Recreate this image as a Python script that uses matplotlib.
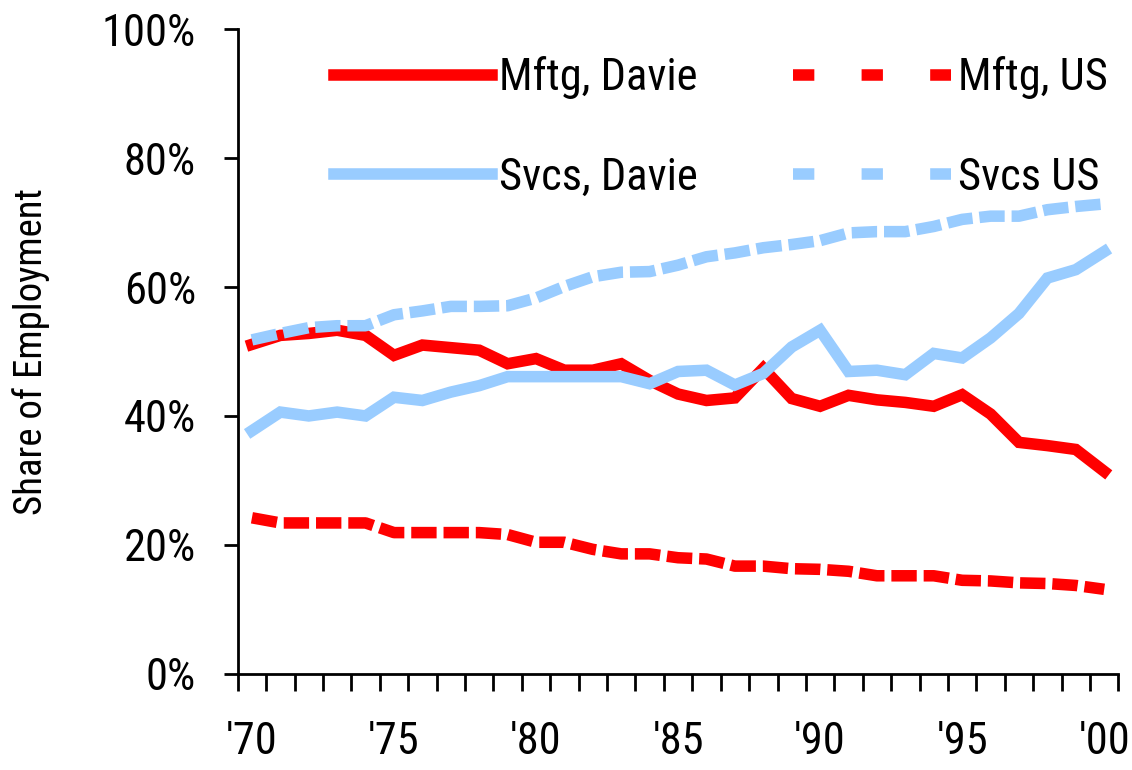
import matplotlib.pyplot as plt
from matplotlib.lines import Line2D

plt.rcParams['font.family'] = ['Roboto Condensed', 'DejaVu Sans Condensed',
                               'Liberation Sans Narrow', 'Roboto', 'DejaVu Sans']

years = list(range(1970, 2001))
year_labels = ["'70", "'75", "'80", "'85", "'90", "'95", "'00"]

mftg_davie = [51.1, 52.5, 52.8, 53.3, 52.5, 49.4, 51.0, 50.6, 50.2, 48.1,
              48.9, 47.1, 47.1, 48.1, 45.5, 43.4, 42.4, 42.8, 47.4, 42.7,
              41.5, 43.2, 42.5, 42.1, 41.5, 43.3, 40.3, 35.9, 35.4, 34.8, 31.4]
mftg_us = [24.2, 23.4, 23.4, 23.4, 23.4, 21.9, 21.9, 21.9, 21.9, 21.6,
           20.4, 20.4, 19.3, 18.6, 18.6, 18.0, 17.8, 16.7, 16.7, 16.3,
           16.2, 15.9, 15.2, 15.2, 15.2, 14.5, 14.4, 14.1, 14.0, 13.7, 13.1]
svcs_davie = [37.7, 40.6, 40.0, 40.6, 40.0, 42.9, 42.4, 43.7, 44.7, 46.1,
              46.1, 46.1, 46.1, 46.1, 45.0, 46.9, 47.1, 44.8, 46.6, 50.7,
              53.3, 46.9, 47.1, 46.4, 49.7, 49.0, 52.1, 55.9, 61.4, 62.7, 65.5]
svcs_us = [51.8, 52.8, 53.7, 54.0, 54.0, 55.7, 56.3, 57.0, 57.0, 57.1,
           58.3, 60.1, 61.6, 62.3, 62.4, 63.4, 64.7, 65.3, 66.1, 66.6,
           67.2, 68.4, 68.6, 68.6, 69.4, 70.5, 71.0, 71.0, 72.0, 72.5, 72.9]

red = '#FF0000'
blue = '#99CCFF'
lw = 8.3
fs = 32

fig = plt.figure(figsize=(11.32, 7.70), dpi=100)
ax = fig.add_axes([0.21, 0.125, 0.778, 0.837])

idx = list(range(len(years)))
ax.plot(idx, mftg_davie, color=red, lw=lw, solid_joinstyle='miter')
ax.plot(idx, mftg_us, color=red, lw=lw, dashes=(2.2, 0.6), dash_capstyle='butt')
ax.plot(idx, svcs_davie, color=blue, lw=lw, solid_joinstyle='miter')
ax.plot(idx, svcs_us, color=blue, lw=lw, dashes=(2.2, 0.6), dash_capstyle='butt')

ax.set_xlim(-0.5, len(years) - 0.5)
ax.set_ylim(0, 100)

# tick marks between categories, labels centred on the years
ax.set_xticks([i - 0.5 for i in range(len(years) + 1)])
ax.set_xticklabels([])
ax.tick_params(axis='x', which='major', direction='out', length=12, width=2)
ax.set_xticks([years.index(1970 + 5 * k) for k in range(len(year_labels))], minor=True)
ax.set_xticklabels(year_labels, minor=True, fontsize=fs)
ax.tick_params(axis='x', which='minor', length=0, pad=34)

ax.set_yticks(range(0, 101, 20))
ax.set_yticklabels([f'{v}%' for v in range(0, 101, 20)], fontsize=fs)
ax.tick_params(axis='y', direction='out', length=10, width=2, pad=20)

for side in ['top', 'right']:
    ax.spines[side].set_visible(False)
for side in ['left', 'bottom']:
    ax.spines[side].set_linewidth(2)

ax.set_ylabel('Share of Employment', fontsize=28, labelpad=37)

handles = [
    Line2D([], [], color=red, lw=lw),
    Line2D([], [], color=red, lw=lw, dashes=(1.85, 4.1), dash_capstyle='butt'),
    Line2D([], [], color=blue, lw=lw),
    Line2D([], [], color=blue, lw=lw, dashes=(1.85, 4.1), dash_capstyle='butt'),
]
labels = ['Mftg, Davie', 'Mftg, US', 'Svcs, Davie', 'Svcs US']
order = [0, 2, 1, 3]
ax.legend([handles[i] for i in order], [labels[i] for i in order], ncol=2,
          frameon=False, fontsize=fs, handlelength=3.55, handletextpad=0.16,
          columnspacing=2.15, labelspacing=1.3, borderpad=0, borderaxespad=0,
          loc='upper left', bbox_to_anchor=(0.295, 0.927), bbox_transform=fig.transFigure)

fig.savefig('out.png', dpi=100)
